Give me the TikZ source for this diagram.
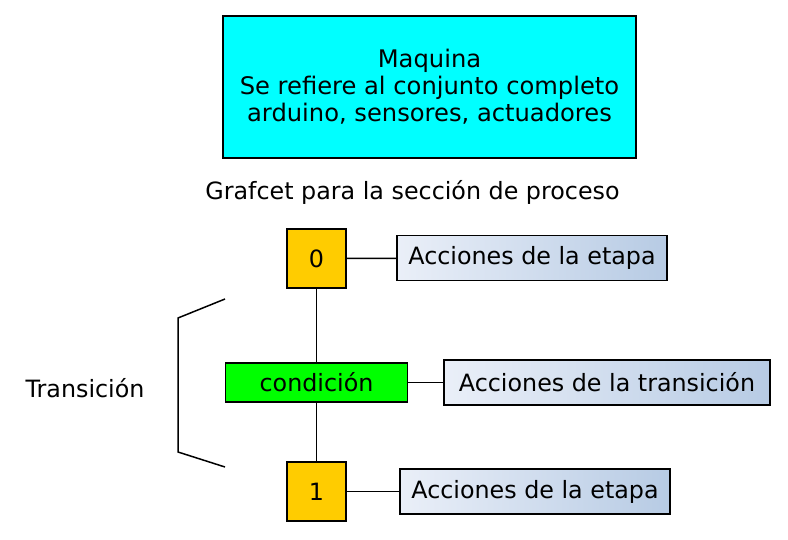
\documentclass[tikz,border=0pt]{standalone}
\usepackage{fontspec}
\setmainfont{DejaVu Sans}
\usepackage{tikz}
\usetikzlibrary{calc}
\definecolor{maqcyan}{HTML}{00FFFF}
\definecolor{condgreen}{HTML}{00FF00}
\definecolor{stepgold}{HTML}{FFCC00}
\definecolor{actleft}{HTML}{EAEFF8}
\definecolor{actright}{HTML}{B7CBE4}
\tikzstyle{etapa}=[draw, fill=stepgold, minimum width=29.5pt, minimum height=29.5pt, inner sep=0pt]
\tikzstyle{accion}=[draw, left color=actleft, right color=actright, minimum height=22.5pt, inner sep=0pt]
\tikzstyle{trans}=[draw, fill=condgreen, minimum width=91pt, minimum height=19.5pt, inner sep=0pt]

\begin{document}
\begin{tikzpicture}
        [x=0.5pt,y=-0.5pt,line width=0.75pt,font=\fontsize{11.9}{13.5}\selectfont]
            \useasboundingbox (0,0) rectangle (788,540);
            \node [draw, fill=maqcyan, minimum width=206.5pt, minimum height=71pt, align=center, font=\fontsize{12.1}{13.5}\selectfont] (maquina) at (429.5,87) {Maquina\\Se refiere al conjunto completo\ \\arduino, sensores, actuadores};
            \node (titulo) at (412.5,192) {Grafcet para la sección de proceso};
            \node [etapa] (e0) at (316.5,258.5) {0};
            \node [trans] (cond) at (316.5,382.5) {condición};
            \node [etapa] (e1) at (316.5,491.5) {1};
            \node [accion, minimum width=135pt] (a0) at (532,258) {Acciones de la etapa};
            \node [accion, minimum width=163pt] (at) at (607,382.5) {Acciones de la transición};
            \node [accion, minimum width=135pt] (a1) at (535,491.5) {Acciones de la etapa};
            \draw (e0) -- (cond) -- (e1);
            \draw (e0) -- (a0);
            \draw (cond) -- (at);
            \draw (e1) -- (a1);
            % llave de la transicion
            \coordinate (b0) at (225,299);
            \coordinate (b1) at (225,467);
            \draw (b0) -- (178,318) -- (178,452) -- (b1);
            \node (transicion) at (85,388) {Transición};
        \end{tikzpicture}
\end{document}
